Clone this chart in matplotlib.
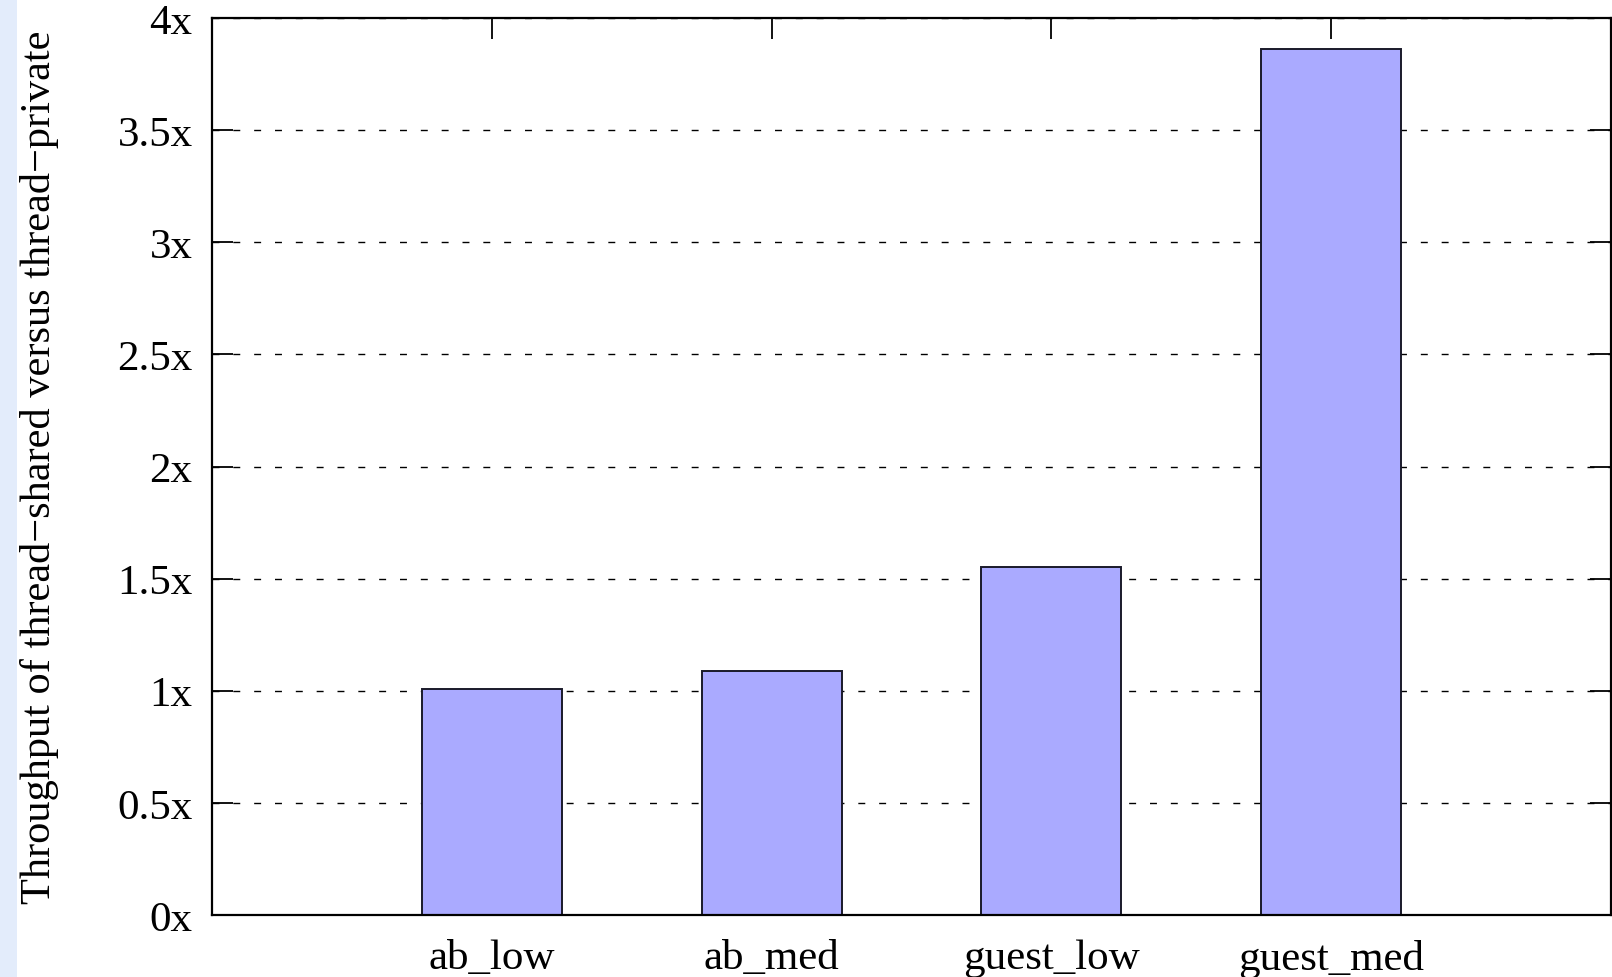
import matplotlib
matplotlib.use("Agg")
import matplotlib.pyplot as plt
from matplotlib.patches import Rectangle

categories = ["ab_low", "ab_med", "guest_low", "guest_med"]
speedups = [1.01, 1.09, 1.55, 3.86]
ytick_values = [0, 0.5, 1, 1.5, 2, 2.5, 3, 3.5, 4]
ytick_labels = ["0x", "0.5x", "1x", "1.5x", "2x", "2.5x", "3x", "3.5x", "4x"]
ylabel_text = "Throughput of thread\u2212shared versus thread\u2212private"

plt.rcParams["font.family"] = ["Liberation Serif", "DejaVu Serif"]

W, H = 1612, 978
fig = plt.figure(figsize=(W / 100, H / 100), dpi=100)
fig.patch.set_facecolor("white")

# light strip along the left edge, kept beneath everything else
fig.patches.append(Rectangle((0, 0), 17 / W, 1, transform=fig.transFigure,
                             facecolor="#e3ecfb", edgecolor="none", zorder=-5))

ax = fig.add_axes([212 / W, 1 - 916 / H, 1399 / W, 897 / H])
ax.patch.set_alpha(0)
x = list(range(1, len(categories) + 1))
ax.bar(x, speedups, width=0.5, color="#aaaaff", edgecolor="#1a1a2a",
       linewidth=1.4, zorder=2)

ax.set_xlim(0, 5)
ax.set_ylim(0, 4)
ax.set_xticks(x)
ax.set_xticklabels(categories, fontsize=31)
ax.set_yticks(ytick_values)
ax.set_yticklabels(ytick_labels, fontsize=31)

ax.set_axisbelow(True)
ax.yaxis.grid(True, color="black", linewidth=1.0, linestyle=(0, (5, 10)))
ax.xaxis.grid(False)

ax.tick_params(axis="y", direction="in", length=15, width=1.3, left=True,
               right=True, pad=14)
ax.tick_params(axis="x", direction="in", length=15, width=1.3, bottom=False,
               top=True, pad=17)
for sp in ax.spines.values():
    sp.set_linewidth(1.6)

ax.set_ylabel(ylabel_text, fontsize=30.5)
ax.yaxis.set_label_coords(-0.1097, 0.5)

fig.savefig("out.png", dpi=100)
